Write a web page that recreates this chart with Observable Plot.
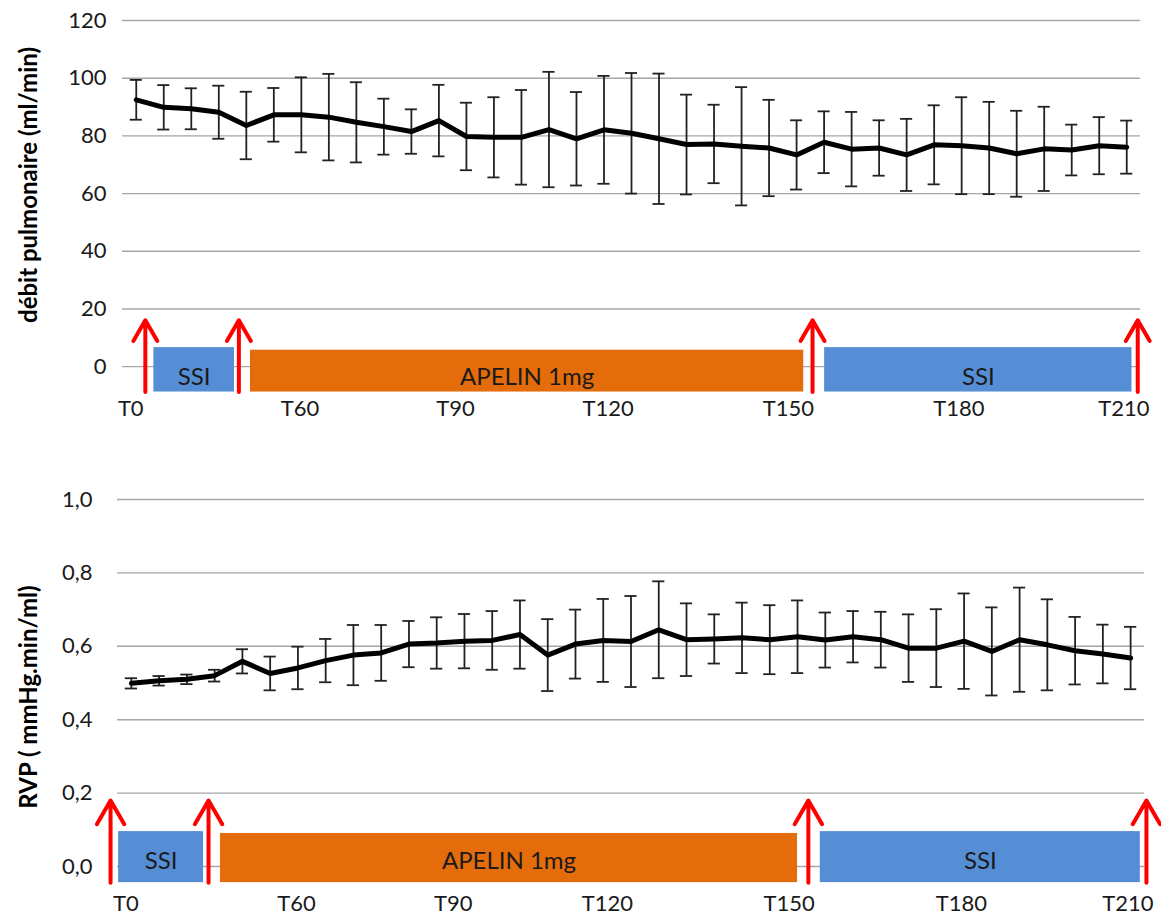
<!DOCTYPE html>
<html><head><meta charset="utf-8">
<script src="https://cdn.jsdelivr.net/npm/d3@7"></script>
<script src="https://cdn.jsdelivr.net/npm/@observablehq/plot@0.6"></script>
<style>
body{margin:0;background:#fff;}
#chart{width:1161px;position:relative;}
#chart svg{display:block;}
.ytitle{position:absolute;transform:translate(-50%,-50%) rotate(-90deg);white-space:nowrap;
  font-family:Lato,'Open Sans',sans-serif;font-weight:bold;font-size:24px;color:#000;line-height:1;}
</style></head><body><div id="chart"></div>
<script>
// ---- data ----
const timeLabels = ["T0","T60","T90","T120","T150","T180","T210"];
const timeLabelPos = [-0.2, 5.95, 11.6, 17.15, 23.7, 29.9, 35.9];

const debitMean = [92.5, 89.9, 89.4, 88.2, 83.6, 87.3, 87.3, 86.5, 84.7, 83.2, 81.5, 85.3, 79.8, 79.5, 79.5, 82.2, 79.0, 82.1, 80.9, 79.0, 77.0, 77.2, 76.4, 75.8, 73.4, 77.8, 75.4, 75.8, 73.4, 76.9, 76.6, 75.8, 73.8, 75.5, 75.1, 76.6, 76.1];
const debitErr = [6.9, 7.7, 7.1, 9.2, 11.7, 9.3, 13.0, 15.0, 13.9, 9.7, 7.7, 12.4, 11.7, 13.9, 16.4, 20.0, 16.2, 18.7, 20.9, 22.6, 17.3, 13.6, 20.5, 16.7, 12.0, 10.7, 12.9, 9.6, 12.5, 13.7, 16.8, 16.0, 14.9, 14.6, 8.8, 9.9, 9.2];

const rvpMean = [0.499, 0.506, 0.510, 0.520, 0.559, 0.526, 0.541, 0.561, 0.576, 0.582, 0.606, 0.609, 0.614, 0.616, 0.632, 0.576, 0.606, 0.616, 0.613, 0.645, 0.618, 0.620, 0.623, 0.618, 0.626, 0.617, 0.626, 0.618, 0.595, 0.595, 0.614, 0.586, 0.618, 0.604, 0.588, 0.579, 0.568];
const rvpErr = [0.014, 0.013, 0.013, 0.016, 0.033, 0.046, 0.058, 0.059, 0.082, 0.076, 0.063, 0.070, 0.074, 0.080, 0.093, 0.098, 0.094, 0.113, 0.124, 0.132, 0.099, 0.067, 0.096, 0.094, 0.099, 0.075, 0.070, 0.076, 0.092, 0.106, 0.130, 0.120, 0.142, 0.124, 0.092, 0.080, 0.085];

const debitTicks = [0, 20, 40, 60, 80, 100, 120];
const rvpTicks = [0, 0.2, 0.4, 0.6, 0.8, 1.0];

const phaseLabels = ["SSI", "APELIN 1mg", "SSI"];
const phaseKinds = ["saline", "apelin", "saline"];
const phaseStartTop = [0.64, 4.15, 25.02];
const phaseEndTop = [3.57, 24.26, 36.19];
const phaseStartBot = [-0.46, 3.21, 24.82];
const phaseEndBot = [2.6, 24.0, 36.35];
const arrowsTop = [0.33, 3.73, 24.58, 36.4];
const arrowsBot = [-0.75, 2.78, 24.39, 36.57];

const titleTop = "débit pulmonaire (ml/min)";
const titleBot = "RVP ( mmHg.min/ml)";

// ---- helpers ----
const FONT = "Lato, 'Open Sans', sans-serif";
const COLORS = {saline: "#558ed5", apelin: "#e46c0a"};
const labelMap = new Map(timeLabelPos.map((p, i) => [p, timeLabels[i]]));

function panel(o) {
  const rows = o.mean.map((m, i) => ({i, m, e: o.err[i]}));
  const phases = phaseLabels.map((l, k) => ({label: l, kind: phaseKinds[k], start: o.starts[k], end: o.ends[k]}));
  const cap = 0.22;
  return Plot.plot({
    width: 1161,
    height: o.height,
    marginTop: o.marginTop,
    marginBottom: o.marginBottom,
    marginLeft: o.marginLeft,
    marginRight: o.marginRight,
    style: {fontFamily: FONT, color: "#1a1a1a", background: "#fff", overflow: "visible"},
    x: {domain: [-0.5, 36.5]},
    y: {domain: o.yDomain},
    color: {type: "identity"},
    marks: [
      Plot.ruleY(o.yTicks, {stroke: "#a6a6a6", strokeWidth: 1.4}),
      Plot.axisY(o.yTicks, {tickSize: 0, tickPadding: o.tickPad, tickFormat: o.fmt, fontSize: 22, label: null}),
      Plot.axisX(timeLabelPos, {tickSize: 0, tickPadding: o.xPad, tickFormat: d => labelMap.get(d), fontSize: 22, label: null}),
      Plot.rect(phases, {x1: "start", x2: "end", y1: () => o.rectBottom, y2: d => d.kind === "saline" ? o.rectTopBlue : o.rectTopOrange, fill: d => COLORS[d.kind]}),
      Plot.text(phases, {x: d => (d.start + d.end) / 2, y: () => o.labelY, text: "label", fontSize: 24, fill: "#1a1a1a"}),
      Plot.arrow(o.arrows, {x1: d => d, x2: d => d, y1: () => o.rectBottom, y2: () => o.arrowTop, stroke: "#ff0000", strokeWidth: 4, headLength: 24, headAngle: 60}),
      Plot.ruleX(rows, {x: "i", y1: d => d.m - d.e, y2: d => d.m + d.e, stroke: "#222", strokeWidth: 1.8}),
      Plot.ruleY(rows, {y: d => d.m + d.e, x1: d => d.i - cap, x2: d => d.i + cap, stroke: "#222", strokeWidth: 1.8}),
      Plot.ruleY(rows, {y: d => d.m - d.e, x1: d => d.i - cap, x2: d => d.i + cap, stroke: "#222", strokeWidth: 1.8}),
      Plot.line(rows, {x: "i", y: "m", stroke: "#000", strokeWidth: 5, strokeLinejoin: "round", strokeLinecap: "round"})
    ]
  });
}

const topPanel = panel({
  mean: debitMean, err: debitErr, yTicks: debitTicks, yDomain: [-10, 120],
  fmt: d => String(d), height: 440, marginTop: 20, marginBottom: 45, marginLeft: 122, marginRight: 21,
  tickPad: 16, xPad: 5, starts: phaseStartTop, ends: phaseEndTop, arrows: arrowsTop,
  rectBottom: -8.8, rectTopBlue: 6.6, rectTopOrange: 5.7, arrowTop: 16.1, labelY: -3.8
});
const botPanel = panel({
  mean: rvpMean, err: rvpErr, yTicks: rvpTicks, yDomain: [-0.06, 1.0],
  fmt: d => d.toFixed(1).replace(".", ","), height: 480, marginTop: 59, marginBottom: 32, marginLeft: 117, marginRight: 17,
  tickPad: 25, xPad: 7, starts: phaseStartBot, ends: phaseEndBot, arrows: arrowsBot,
  rectBottom: -0.044, rectTopBlue: 0.095, rectTopOrange: 0.09, arrowTop: 0.18, labelY: 0.013
});
const chart = document.getElementById("chart");
chart.append(topPanel, botPanel);

function addTitle(text, left, topPx) {
  const d = document.createElement("div");
  d.className = "ytitle";
  d.textContent = text;
  d.style.left = left + "px";
  d.style.top = topPx + "px";
  chart.appendChild(d);
}
addTitle(titleTop, 28, 185);
addTitle(titleBot, 28, 697);
</script>
</body></html>
